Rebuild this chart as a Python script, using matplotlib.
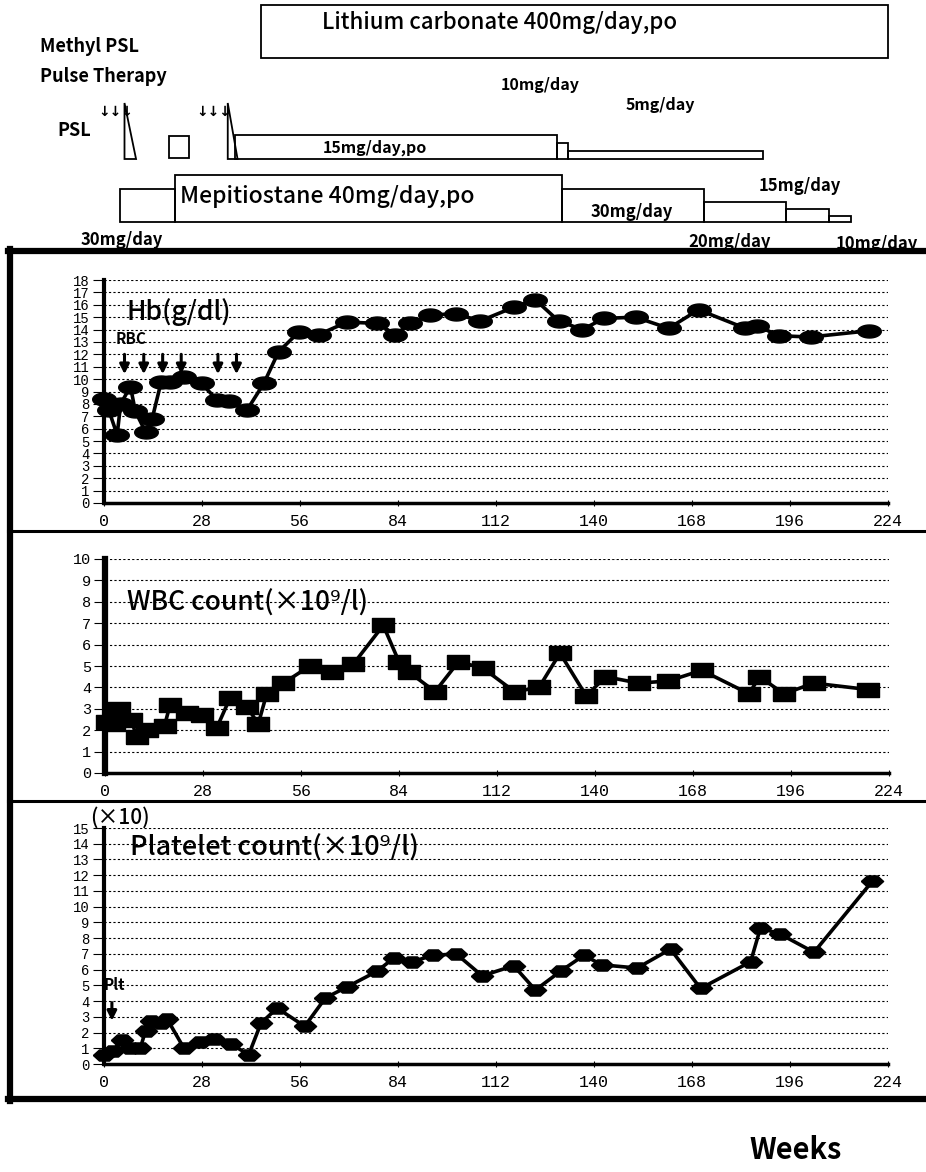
import numpy as np
import matplotlib
matplotlib.use("Agg")
import matplotlib.pyplot as plt
from matplotlib.path import Path
from matplotlib.patches import Rectangle, Polygon
from matplotlib.lines import Line2D

# ---- data (days) ----
hb_day = [0, 1.5, 3.9, 4.9, 7.7, 9.1, 12, 13.9, 16.5, 19, 23, 28, 32.5, 35.8, 41, 45.8,
          50, 55.8, 61.5, 69.6, 78.2, 83.4, 87.7, 93.4, 100.8, 107.7, 117.2, 123.4, 130,
          136.8, 143, 152, 161.5, 170, 183.4, 186.8, 193, 202, 218.7]
hb_val = [8.4, 7.5, 5.5, 8.0, 9.4, 7.4, 5.75, 6.8, 9.8, 9.8, 10.2, 9.65, 8.3, 8.2, 7.5, 9.65,
          12.2, 13.8, 13.6, 14.6, 14.5, 13.6, 14.5, 15.2, 15.25, 14.7, 15.8, 16.4, 14.7,
          14.0, 14.9, 15.0, 14.1, 15.6, 14.1, 14.3, 13.5, 13.4, 13.9]

wbc_day = [0.5, 2.5, 4, 7.5, 9, 12, 17, 18.6, 23.3, 27.6, 31.9, 35.7, 40.5, 43.8, 46.2, 51,
           58.5, 65, 71, 79.5, 84, 87, 94.3, 101, 108, 117, 124, 130, 137.5, 143, 152.5,
           161, 170.5, 184, 187, 194, 202.5, 218]
wbc_val = [2.4, 2.3, 3.0, 2.5, 1.7, 2.0, 2.2, 3.2, 2.8, 2.7, 2.1, 3.5, 3.1, 2.3, 3.7, 4.2,
           5.0, 4.7, 5.1, 6.9, 5.2, 4.7, 3.8, 5.2, 4.9, 3.8, 4.0, 5.6, 3.6, 4.5, 4.2,
           4.3, 4.8, 3.7, 4.5, 3.7, 4.2, 3.9]

plt_day = [0, 2.6, 5.3, 7.5, 10.5, 12, 13.5, 16.3, 18.2, 23, 27.5, 31.5, 36.5, 41.5, 45,
           49.6, 57.5, 63.4, 69.6, 78.2, 83, 88.2, 94, 100.8, 108.2, 117.2, 123.4, 130.6,
           137.2, 142.5, 152.5, 162, 170.6, 184.9, 187.7, 193.4, 203, 219.6]
plt_val = [0.55, 0.8, 1.55, 1.0, 1.0, 2.1, 2.75, 2.6, 2.85, 1.0, 1.4, 1.6, 1.25, 0.6, 2.6,
           3.55, 2.4, 4.2, 4.9, 5.9, 6.75, 6.5, 6.9, 7.0, 5.6, 6.25, 4.7, 5.9,
           6.9, 6.3, 6.1, 7.3, 4.8, 6.5, 8.65, 8.25, 7.1, 11.6]

rbc_days = [6, 11.5, 16.9, 22.2, 32.7, 38]
plt_tx_days = [2.4]
x_ticks = [0, 28, 56, 84, 112, 140, 168, 196, 224]

# treatments
lith_span = (45, 224)
psl_start = [37.5, 129.7, 132.6]
psl_end = [129.7, 132.6, 188.3]
psl_dose = [15, 10, 5]
mep_start = [4.6, 20.3, 130.9, 171.7, 195, 207.4]
mep_end = [20.3, 130.9, 171.7, 195, 207.4, 213.7]
mep_dose = [30, 40, 30, 20, 15, 10]
pulse_arrow_x = [116, 214]      # pixel centres of the arrow groups
taper_days = [(6.0, 9.3), (35.5, 38.3)]
psl_square = (18.6, 24.4)

# ---- layout helpers (pixels) ----
W, H = 926, 1172
X0, PXD = 103.5, 3.5       # pixel of day 0, pixels per day

def fx(x):
    return x / W

def fy(y):
    return 1 - y / H

JP = ['Noto Sans CJK JP', 'DejaVu Sans']
NUM = 'Liberation Mono'

fig = plt.figure(figsize=(W / 100, H / 100), dpi=100)

# ---- treatment schedule strip ----
ax0 = fig.add_axes([0, fy(250), 1, 250 / H])
ax0.set_xlim(-X0 / PXD, (W - X0) / PXD)
ax0.set_ylim(250, 0)
ax0.axis('off')

ax0.add_patch(Rectangle((lith_span[0], 5), lith_span[1] - lith_span[0], 53,
                        fill=False, lw=1.3, ec='black'))
for s, e, d in zip(psl_start, psl_end, psl_dose):
    h = 1.6 * d
    ax0.add_patch(Rectangle((s, 159 - h), e - s, h, fill=False, lw=1.3, ec='black'))
for s, e, d in zip(mep_start, mep_end, mep_dose):
    h = 1.35 * d - 7
    ax0.add_patch(Rectangle((s, 222 - h), e - s, h, fill=False, lw=1.3, ec='black'))
for s, e in taper_days:
    ax0.add_patch(Polygon([(s, 103), (s, 159), (e, 159)], closed=True,
                          fill=False, lw=1.3, ec='black'))
ax0.add_patch(Rectangle((psl_square[0], 136), psl_square[1] - psl_square[0], 22,
                        fill=False, lw=1.3, ec='black'))

def ftext(x, y, s, size, ha='left', weight='bold', **kw):
    fig.text(fx(x), fy(y), s, fontsize=size, ha=ha, va='center',
             family=JP, weight=weight, **kw)

ftext(500, 22, 'Lithium carbonate 400mg/day,po', 16, ha='center', weight='medium')
ftext(40, 47, 'Methyl PSL', 13)
ftext(40, 77, 'Pulse Therapy', 13)
ftext(74, 131, 'PSL', 13, ha='center')
for xa in pulse_arrow_x:
    fig.text(fx(xa), fy(112), '\u2193\u2193\u2193', fontsize=10, ha='center',
             va='center', family='DejaVu Sans', weight='bold')
ftext(540, 85, '10mg/day', 11.5, ha='center')
ftext(660, 105, '5mg/day', 11.5, ha='center')
ftext(375, 148, '15mg/day,po', 11.5, ha='center')
ftext(180, 197, 'Mepitiostane 40mg/day,po', 16.5, weight='medium')
ftext(632, 212, '30mg/day', 12, ha='center')
ftext(122, 240, '30mg/day', 12, ha='center')
ftext(730, 242, '20mg/day', 12, ha='center')
ftext(800, 186, '15mg/day', 12, ha='center')
ftext(877, 244, '10mg/day', 12, ha='center')
ftext(796, 1150, 'Weeks', 21, ha='center')

# ---- frames ----
def hline(y, x1, x2, lw):
    fig.add_artist(Line2D([fx(x1), fx(x2)], [fy(y), fy(y)], color='black', lw=lw))

hline(251, 8, W, 4.5)
hline(531, 8, W, 2.2)
hline(801, 8, W, 2.2)
hline(1099, 8, W, 4.5)
fig.add_artist(Line2D([fx(10), fx(10)], [fy(249), fy(1101)], color='black', lw=4.5))

# ---- markers ----
t = np.linspace(0, 2 * np.pi, 41)
ellipse = Path(np.column_stack([np.cos(t), 0.55 * np.sin(t)]))
rect = Path([(-1, -0.6), (1, -0.6), (1, 0.6), (-1, 0.6), (-1, -0.6)])
hexa = Path([(-1, 0), (-0.45, 0.5), (0.45, 0.5), (1, 0), (0.45, -0.5), (-0.45, -0.5), (-1, 0)])


def panel(y0, ytop, ymax, days, vals, marker, ms, x0=X0):
    ax = fig.add_axes([fx(x0), fy(y0), 224 * PXD / W, (y0 - ytop) / H])
    ax.set_xlim(0, 224)
    ax.set_ylim(0, ymax)
    for v in range(1, ymax + 1):
        ax.axhline(v, color='black', lw=0.8, ls=(0, (2, 2)), zorder=1)
    ax.plot(days, vals, color='black', lw=2.6, marker=marker, ms=ms,
            mfc='black', mec='black', zorder=3, clip_on=False)
    for side in ['top', 'right']:
        ax.spines[side].set_visible(False)
    ax.spines['left'].set_linewidth(3)
    ax.spines['bottom'].set_linewidth(2.5)
    ax.set_yticks(range(0, ymax + 1))
    ax.set_xticks(x_ticks)
    ax.tick_params(axis='y', length=8, width=0.8, pad=2, labelsize=10)
    ax.tick_params(axis='x', length=4, width=0.8, direction='inout', pad=6, labelsize=12)
    for lab in ax.get_yticklabels() + ax.get_xticklabels():
        lab.set_family(NUM)
    ax.patch.set_alpha(0)
    return ax

ax1 = panel(503, 280, 18, hb_day, hb_val, ellipse, 17)
ax1.text(6.7, 15.4, 'Hb(g/dl)', fontsize=19, family=JP, weight='medium', va='center')
ax1.text(3.6, 13.2, 'RBC', fontsize=11, family=JP, weight='bold', va='center')
for d in rbc_days:
    ax1.annotate('', xy=(d, 10.4), xytext=(d, 12.0),
                 arrowprops=dict(arrowstyle='-|>', color='black', lw=2.2,
                                 mutation_scale=14, shrinkA=0, shrinkB=0))

ax2 = panel(773, 559, 10, wbc_day, wbc_val, rect, 16, x0=105)
ax2.spines['left'].set_linewidth(4.5)
ax2.tick_params(axis='y', labelsize=11)
ax2.text(6.3, 7.96, 'WBC count(\u00d710\u2079/l)', fontsize=19, family=JP,
         weight='medium', va='center')

ax3 = panel(1064, 828, 15, plt_day, plt_val, hexa, 16)
ax3.text(7.7, 13.7, 'Platelet count(\u00d710\u2079/l)', fontsize=19.5, family=JP,
         weight='medium', va='center')
ax3.text(0, 5.0, 'Plt', fontsize=11, family=JP, weight='bold', va='center')
for d in plt_tx_days:
    ax3.annotate('', xy=(d, 2.75), xytext=(d, 3.9),
                 arrowprops=dict(arrowstyle='-|>', color='black', lw=2.2,
                                 mutation_scale=14, shrinkA=0, shrinkB=0))
ftext(120, 818, '(\u00d710)', 15, ha='center', weight='medium')

fig.savefig('out.png', dpi=100)
